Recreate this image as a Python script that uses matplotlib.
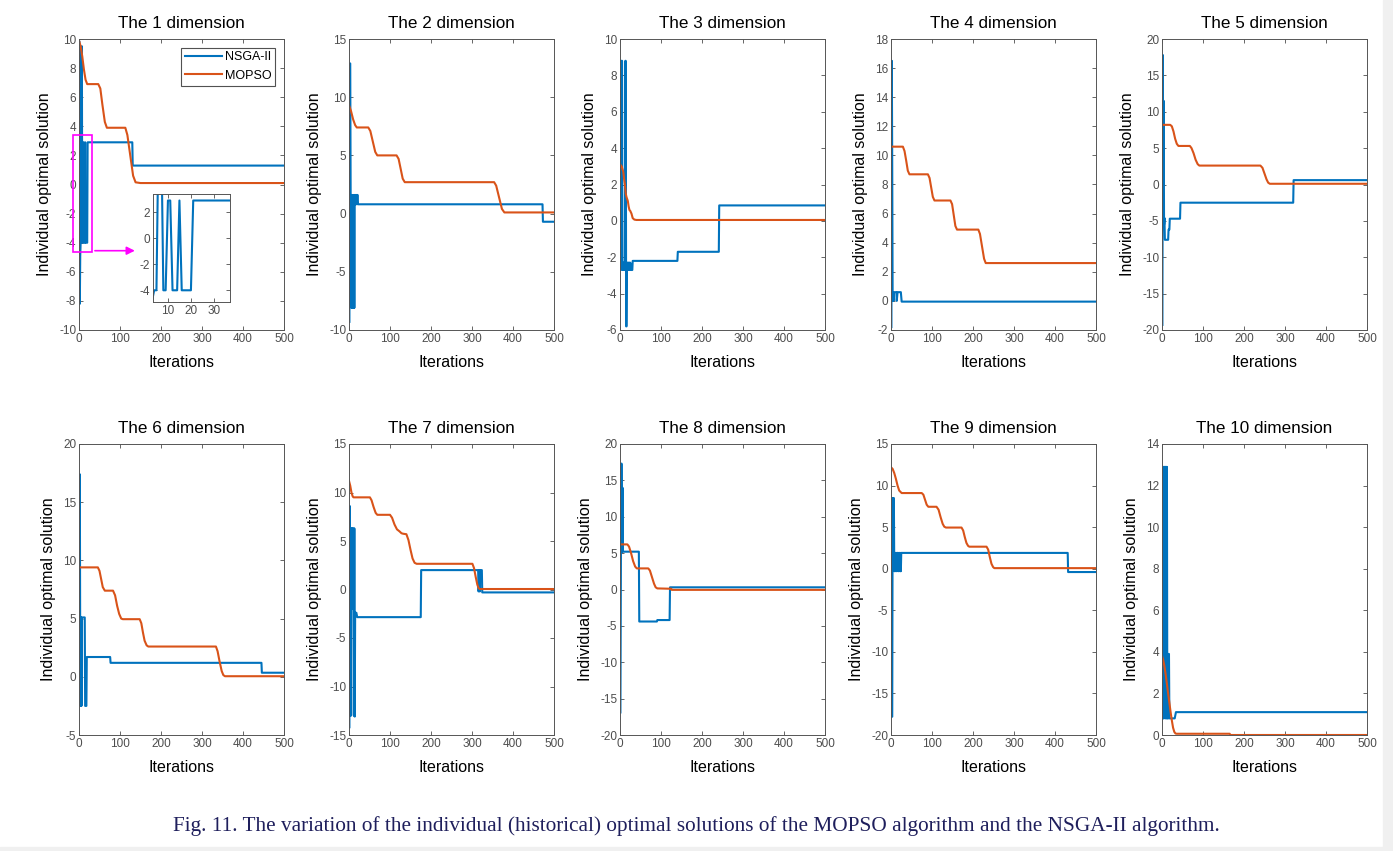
import numpy as np
from matplotlib import pyplot as plt
from matplotlib.patches import Rectangle

plt.rcParams['font.family'] = ['Liberation Sans', 'DejaVu Sans']
plt.rcParams['axes.unicode_minus'] = False

BLUE = '#0072BD'
ORANGE = '#D95319'

# values (iteration, value) for every dimension
nsga1_x = [1, 2, 3, 4, 5, 6, 7, 8, 9, 10, 11, 12, 13, 14, 15, 16, 17, 18, 19, 20, 21, 130, 131, 500]
nsga1_y = [9.8, -8.2, -4.9, -4.0, -4.0, 9.5, 9.5, -4.0, -4.0, 2.9, 2.9, -4.0, -4.0, -4.0, 2.9, -4.0,
           -4.0, -4.0, -4.0, -4.0, 2.9, 2.9, 1.3, 1.3]
mopso1_x = [0, 4, 8, 12, 16, 20, 47, 52, 57, 63, 68, 113, 118, 125, 132, 138, 150, 500]
mopso1_y = [9.9, 9.5, 8.8, 7.9, 7.2, 6.9, 6.9, 6.6, 5.5, 4.3, 3.9, 3.9, 3.4, 2.0, 0.6, 0.15, 0.1, 0.1]

nsga2_x = [1, 2, 3, 4, 5, 6, 7, 8, 9, 10, 11, 12, 13, 14, 15, 16, 17, 18, 19, 20, 21, 22, 472, 473, 500]
nsga2_y = [-9.3, 12.9, 12.9, 1.6, 1.6, -8.1, 1.6, -8.1, -8.1, 1.6, -8.1, 1.6, -8.1, 1.6, 1.6, 0.8,
           1.6, 1.6, 0.8, 1.6, 1.6, 0.8, 0.8, -0.7, -0.7]
mopso2_x = [0, 5, 10, 15, 19, 47, 52, 58, 64, 69, 116, 121, 126, 131, 136, 354, 359, 366, 373, 379, 390, 500]
mopso2_y = [9.3, 8.8, 8.1, 7.6, 7.4, 7.4, 7.1, 6.2, 5.3, 5.0, 5.0, 4.7, 3.85, 3.0, 2.7, 2.7, 2.4, 1.4,
            0.4, 0.1, 0.1, 0.1]

nsga3_x = [1, 2, 3, 4, 5, 6, 7, 8, 9, 10, 11, 12, 13, 14, 15, 16, 17, 18, 19, 20, 21, 22, 23, 24, 25,
           26, 30, 31, 140, 141, 241, 242, 500]
nsga3_y = [7.2, -2.7, 8.8, 8.8, 8.8, -2.7, -2.3, -2.7, -2.3, -2.7, -2.3, -2.7, 8.8, 8.8, -5.8, -5.8,
           -2.3, -2.7, -2.3, -2.7, -2.3, -2.7, -2.3, -2.7, -2.3, -2.7, -2.7, -2.2, -2.2, -1.7, -1.7,
           0.85, 0.85]
mopso3_x = [0, 4, 8, 10, 12, 14, 16, 19, 21, 23, 25, 28, 31, 35, 40, 500]
mopso3_y = [3.1, 3.0, 2.7, 2.3, 2.0, 1.5, 1.3, 1.1, 0.8, 0.6, 0.55, 0.4, 0.15, 0.07, 0.05, 0.05]

nsga4_x = [1, 2, 3, 4, 5, 6, 7, 13, 14, 16, 24, 26, 500]
nsga4_y = [-1.8, 16.5, 9.0, 0.0, 0.6, 0.0, 0.6, 0.6, 0.0, 0.6, 0.6, -0.05, -0.05]
mopso4_x = [0, 29, 33, 37, 41, 45, 90, 94, 98, 102, 106, 145, 149, 153, 157, 161, 213, 217, 222,
            227, 231, 500]
mopso4_y = [10.6, 10.6, 10.3, 9.65, 8.95, 8.7, 8.7, 8.45, 7.8, 7.15, 6.9, 6.9, 6.65, 5.9, 5.15, 4.9,
            4.9, 4.6, 3.75, 2.9, 2.6, 2.6]

nsga5_x = [1, 2, 3, 4, 5, 6, 7, 15, 16, 18, 19, 44, 45, 320, 321, 500]
nsga5_y = [-19.3, 17.8, 0.0, 11.5, -5.5, -4.6, -7.6, -7.6, -6.2, -6.2, -4.7, -4.7, -2.5, -2.5, 0.6, 0.6]
mopso5_x = [0, 20, 24, 28, 32, 36, 40, 68, 72, 77, 82, 87, 91, 240, 245, 250, 255, 259, 263, 500]
mopso5_y = [8.2, 8.2, 8.0, 7.3, 6.3, 5.6, 5.3, 5.3, 5.0, 4.3, 3.4, 2.8, 2.6, 2.6, 2.3, 1.5, 0.7, 0.25,
            0.1, 0.1]

nsga6_x = [1, 2, 3, 4, 5, 6, 7, 14, 15, 18, 19, 76, 77, 445, 446, 500]
nsga6_y = [7.0, 17.4, 1.7, -2.5, 5.1, -2.5, 5.1, 5.1, -2.5, -2.5, 1.7, 1.7, 1.2, 1.2, 0.35, 0.35]
mopso6_x = [0, 46, 50, 54, 58, 63, 83, 88, 93, 98, 103, 107, 148, 152, 156, 160, 165, 169, 334, 338,
            343, 348, 352, 356, 500]
mopso6_y = [9.4, 9.4, 9.1, 8.4, 7.7, 7.4, 7.4, 7.0, 6.1, 5.4, 5.0, 4.95, 4.95, 4.6, 3.8, 3.1, 2.7,
            2.6, 2.6, 2.2, 1.3, 0.5, 0.15, 0.05, 0.05]

nsga7_x = [1, 2, 3, 4, 5, 6, 7, 8, 9, 10, 11, 12, 13, 14, 15, 18, 20, 175, 176, 315, 316, 318, 319,
           320, 324, 325, 500]
nsga7_y = [-14.2, 8.6, -13.0, 6.3, -13.0, 6.3, 0.0, 6.3, -2.0, 6.3, 6.3, -13.0, 6.3, -13.1, -2.4,
           -2.4, -2.85, -2.85, 2.0, 2.0, -0.2, 2.0, -0.2, 2.0, 2.0, -0.3, -0.3]
mopso7_x = [0, 3, 6, 9, 11, 51, 55, 60, 65, 69, 100, 105, 111, 117, 123, 128, 132, 140, 145, 150,
            155, 160, 165, 301, 305, 309, 313, 316, 319, 500]
mopso7_y = [11.2, 10.7, 10.0, 9.6, 9.5, 9.5, 9.2, 8.5, 7.9, 7.7, 7.7, 7.4, 6.7, 6.2, 6.0, 5.8, 5.75,
            5.7, 5.1, 4.1, 3.2, 2.75, 2.65, 2.65, 2.2, 1.3, 0.5, 0.15, 0.05, 0.05]

nsga8_x = [1, 2, 3, 4, 5, 6, 7, 46, 47, 90, 91, 121, 122, 500]
nsga8_y = [-16.9, 0.0, 17.3, 17.3, 5.2, 14.0, 5.2, 5.2, -4.4, -4.4, -4.2, -4.2, 0.3, 0.3]
mopso8_x = [0, 18, 22, 27, 32, 37, 41, 69, 73, 78, 83, 87, 91, 125, 126, 500]
mopso8_y = [6.2, 6.2, 5.9, 5.0, 3.9, 3.15, 2.9, 2.9, 2.6, 1.7, 0.8, 0.3, 0.15, 0.1, -0.05, -0.05]

nsga9_x = [1, 2, 3, 4, 5, 6, 7, 8, 9, 10, 11, 13, 14, 15, 17, 18, 19, 21, 22, 23, 24, 25, 431, 432, 500]
nsga9_y = [2.0, -17.8, -17.8, 8.5, 2.0, 8.5, 8.5, -0.3, 1.9, -0.3, 1.9, 1.9, -0.3, 1.9, 1.9, -0.3,
           1.9, 1.9, -0.3, 1.9, -0.3, 1.9, 1.9, -0.4, -0.4]
mopso9_x = [0, 4, 8, 12, 16, 20, 26, 75, 79, 83, 87, 91, 111, 116, 121, 126, 130, 134, 172, 176, 180,
            184, 188, 191, 233, 237, 241, 245, 249, 252, 500]
mopso9_y = [12.2, 12.0, 11.5, 10.8, 10.0, 9.4, 9.1, 9.1, 8.9, 8.3, 7.7, 7.45, 7.45, 7.1, 6.2, 5.4,
            5.05, 4.95, 4.95, 4.6, 3.8, 3.1, 2.75, 2.65, 2.65, 2.3, 1.4, 0.6, 0.2, 0.07, 0.07]

nsga10_x = [1, 2, 3, 4, 5, 6, 7, 8, 9, 10, 11, 12, 13, 14, 15, 16, 17, 18, 31, 34, 500]
nsga10_y = [9.0, 0.8, 12.9, 0.8, 12.9, 4.0, 12.9, 0.8, 12.9, 12.9, 0.8, 12.9, 0.8, 3.9, 0.8, 3.9,
            3.9, 0.8, 0.8, 1.1, 1.1]
mopso10_x = [0, 3, 6, 9, 12, 15, 18, 21, 24, 27, 30, 33, 36, 165, 167, 500]
mopso10_y = [3.8, 3.6, 3.3, 2.9, 2.45, 2.0, 1.55, 1.1, 0.7, 0.35, 0.15, 0.07, 0.06, 0.06, 0.0, 0.0]

nsga_x = [nsga1_x, nsga2_x, nsga3_x, nsga4_x, nsga5_x, nsga6_x, nsga7_x, nsga8_x, nsga9_x, nsga10_x]
nsga_y = [nsga1_y, nsga2_y, nsga3_y, nsga4_y, nsga5_y, nsga6_y, nsga7_y, nsga8_y, nsga9_y, nsga10_y]
mopso_x = [mopso1_x, mopso2_x, mopso3_x, mopso4_x, mopso5_x, mopso6_x, mopso7_x, mopso8_x, mopso9_x, mopso10_x]
mopso_y = [mopso1_y, mopso2_y, mopso3_y, mopso4_y, mopso5_y, mopso6_y, mopso7_y, mopso8_y, mopso9_y, mopso10_y]

y_limits = [(-10, 10), (-10, 15), (-6, 10), (-2, 18), (-20, 20),
            (-5, 20), (-15, 15), (-20, 20), (-20, 15), (0, 14)]
y_steps = [2, 5, 2, 2, 5, 5, 5, 5, 5, 2]


def style_axes(ax, fontsize=8.5):
    ax.tick_params(direction='in', top=True, right=True, length=3, width=0.6,
                   labelsize=fontsize, colors='#4d4d4d', pad=2)
    for s in ax.spines.values():
        s.set_color('#555555')
        s.set_linewidth(0.7)


fig = plt.figure(figsize=(13.93, 8.51), dpi=100)

lefts = [79, 349, 620, 891, 1162]
bottoms = [330, 735]
W, H = 1393, 851

axes = []
for i in range(10):
    row, col = divmod(i, 5)
    l = lefts[col] / W
    b = (H - bottoms[row]) / H
    ax = fig.add_axes([l, b, 205 / W, 291 / H])
    ax.plot(nsga_x[i], nsga_y[i], color=BLUE, lw=1.5, label='NSGA-II')
    ax.plot(mopso_x[i], mopso_y[i], color=ORANGE, lw=1.5, label='MOPSO')
    ax.set_xlim(0, 500)
    ax.set_ylim(*y_limits[i])
    ax.set_xticks(np.arange(0, 501, 100))
    ax.set_yticks(np.arange(y_limits[i][0], y_limits[i][1] + 0.1, y_steps[i]))
    ax.set_title(f"The {i + 1} dimension", fontsize=12.3, pad=8)
    ax.set_xlabel("Iterations", fontsize=11.5, labelpad=7)
    ax.set_ylabel("Individual optimal solution", fontsize=11.5, labelpad=5)
    style_axes(ax)
    axes.append(ax)

leg = axes[0].legend(loc='upper right', fontsize=9, handlelength=3.0, frameon=True,
                     fancybox=False, borderaxespad=0.7, handletextpad=0.2, borderpad=0.3)
leg.get_frame().set_edgecolor('#262626')
leg.get_frame().set_linewidth(0.8)

# zoom box and arrow in the first panel
ax0 = axes[0]
ax0.add_patch(Rectangle((-15, -4.64), 47, 8.04, fill=False, edgecolor='#ff00ff', lw=1.2,
                        clip_on=False, zorder=5))
ax0.annotate('', xy=(143, -4.55), xytext=(32, -4.55),
             arrowprops=dict(arrowstyle='-|>', color='#ff00ff', lw=1.2, mutation_scale=12),
             annotation_clip=False)

ins = fig.add_axes([153 / W, (H - 302) / H, 77 / W, 108 / H])
ins.plot(nsga1_x, nsga1_y, color=BLUE, lw=1.5)
ins.set_xlim(3.5, 37)
ins.set_ylim(-4.9, 3.4)
ins.set_xticks([10, 20, 30])
ins.set_yticks([-4, -2, 0, 2])
style_axes(ins, fontsize=8.5)

fig.text(0.5, 25 / H, "Fig. 11. The variation of the individual (historical) optimal solutions of the "
         "MOPSO algorithm and the NSGA-II algorithm.", ha='center', va='center', fontsize=15.3,
         color='#1f1f5c', family=['Liberation Serif', 'DejaVu Serif'])

# light grey page margins
fig.patches.append(Rectangle((1383 / W, 0), 10 / W, 1, transform=fig.transFigure,
                             color='#f0f0f0', zorder=-1))
fig.patches.append(Rectangle((0, 0), 1, 4 / H, transform=fig.transFigure,
                             color='#f0f0f0', zorder=-1))

fig.savefig('out.png', dpi=100)
